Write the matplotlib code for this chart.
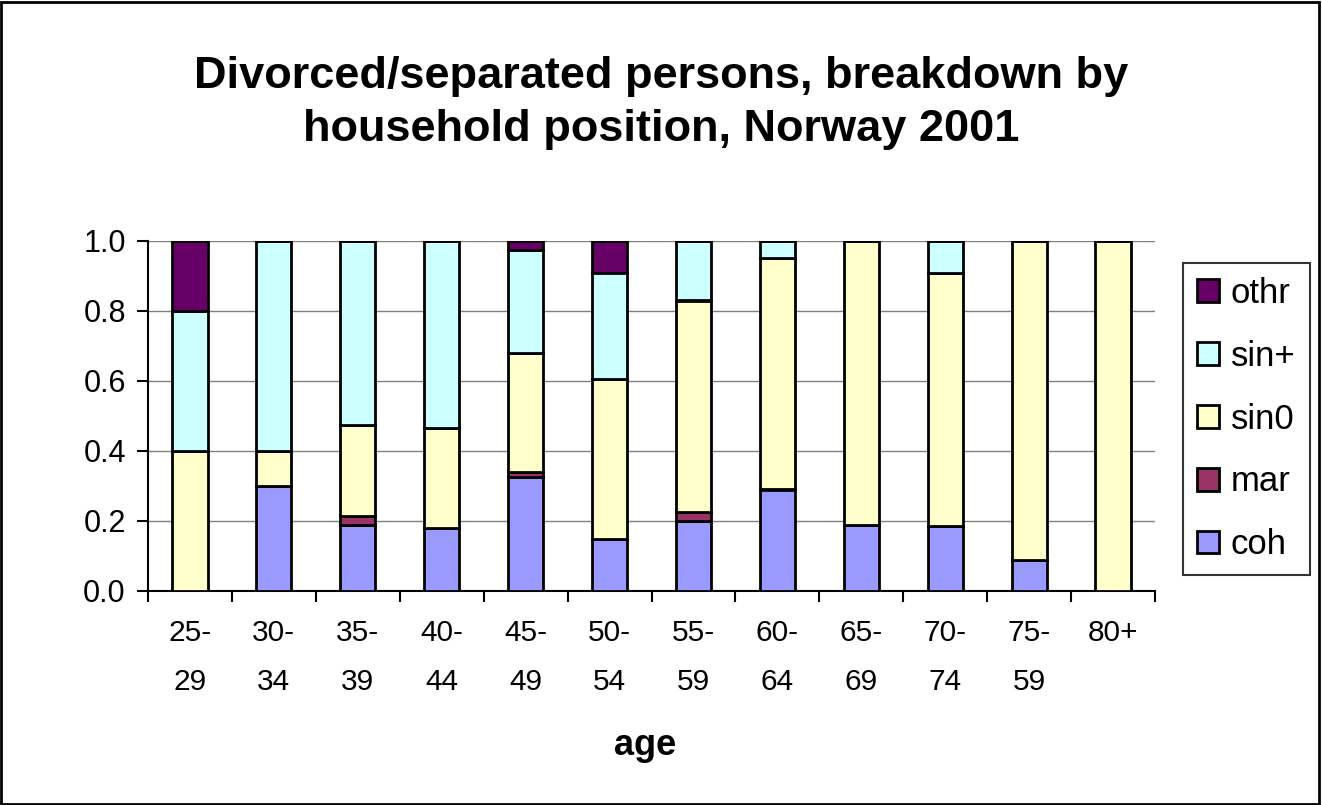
import numpy as np
import matplotlib
matplotlib.use("Agg")
import matplotlib.pyplot as plt
from matplotlib.patches import Rectangle

plt.rcParams['font.family'] = ['Liberation Sans', 'DejaVu Sans']

# age groups (labels as printed in the chart)
ages = ['25-\n29', '30-\n34', '35-\n39', '40-\n44', '45-\n49', '50-\n54',
        '55-\n59', '60-\n64', '65-\n69', '70-\n74', '75-\n59', '80+']

# shares by household position
coh = [0.00, 0.30, 0.19, 0.18, 0.325, 0.15, 0.20, 0.29, 0.19, 0.185, 0.09, 0.00]
mar = [0.00, 0.00, 0.025, 0.00, 0.015, 0.00, 0.025, 0.00, 0.00, 0.00, 0.00, 0.00]
sin0 = [0.40, 0.10, 0.26, 0.285, 0.34, 0.455, 0.605, 0.66, 0.81, 0.725, 0.91, 1.00]
sinp = [0.40, 0.60, 0.525, 0.535, 0.295, 0.305, 0.17, 0.05, 0.00, 0.09, 0.00, 0.00]
othr = [0.20, 0.00, 0.00, 0.00, 0.025, 0.09, 0.00, 0.00, 0.00, 0.00, 0.00, 0.00]

series = [('coh', coh, '#9999FF'), ('mar', mar, '#993366'),
          ('sin0', sin0, '#FFFFCC'), ('sin+', sinp, '#CCFFFF'),
          ('othr', othr, '#660066')]

fig = plt.figure(figsize=(13.22, 8.05), dpi=100)
ax = fig.add_axes([148/1322, 1 - 591/805, 1007/1322, 350/805])

x = np.arange(len(ages))
bottom = np.zeros(len(ages))
handles = {}
for name, vals, col in series:
    vals = np.array(vals)
    bars = ax.bar(x, vals, width=0.42, bottom=bottom, color=col,
                  edgecolor='black', linewidth=2, label=name, zorder=3)
    handles[name] = bars
    bottom += vals

ax.set_xlim(-0.5, len(ages) - 0.5)
ax.set_ylim(0, 1.0)
ax.set_yticks(np.arange(0, 1.01, 0.2))
ax.set_yticklabels([f'{v:.1f}' for v in np.arange(0, 1.01, 0.2)], fontsize=22)
ax.yaxis.grid(True, color='#808080', linewidth=1, zorder=0)
ax.set_axisbelow(True)

ax.set_xticks(x)
ax.set_xticklabels(ages, fontsize=21.5, linespacing=1.95)
ax.set_xticks(np.arange(-0.5, len(ages)), minor=True)
ax.tick_params(axis='x', which='major', length=0, pad=20)
ax.tick_params(axis='x', which='minor', length=8, width=1.5, direction='out')
ax.tick_params(axis='y', length=8, width=1.5, direction='out', pad=8)

for s in ['top', 'right']:
    ax.spines[s].set_visible(False)
for s in ['left', 'bottom']:
    ax.spines[s].set_linewidth(1.5)

ax.set_xlabel('age', fontsize=26, fontweight='bold')
ax.xaxis.label.set_va('center')
ax.xaxis.set_label_coords((645 - 148) / 1007, -(745 - 591) / 350)

order = ['othr', 'sin+', 'sin0', 'mar', 'coh']
leg = fig.legend([handles[n] for n in order], order, loc='upper left',
                 bbox_to_anchor=(1183/1322, 1 - 263/805), fontsize=25,
                 frameon=True, fancybox=False, edgecolor='black',
                 handlelength=0.63, handleheight=0.63, handletextpad=0.35,
                 labelspacing=0.86, borderpad=0.4, borderaxespad=0)
leg.get_frame().set_linewidth(1.5)

fig.text(0.5, 1 - 103/805,
         'Divorced/separated persons, breakdown by\nhousehold position, Norway 2001',
         ha='center', va='center', fontsize=32.5, fontweight='bold',
         linespacing=1.35)

fig.patches.append(Rectangle((0.001, 0.001), 0.997, 0.997, transform=fig.transFigure,
                             fill=False, edgecolor='black', linewidth=2))

fig.savefig('out.png', dpi=100)
